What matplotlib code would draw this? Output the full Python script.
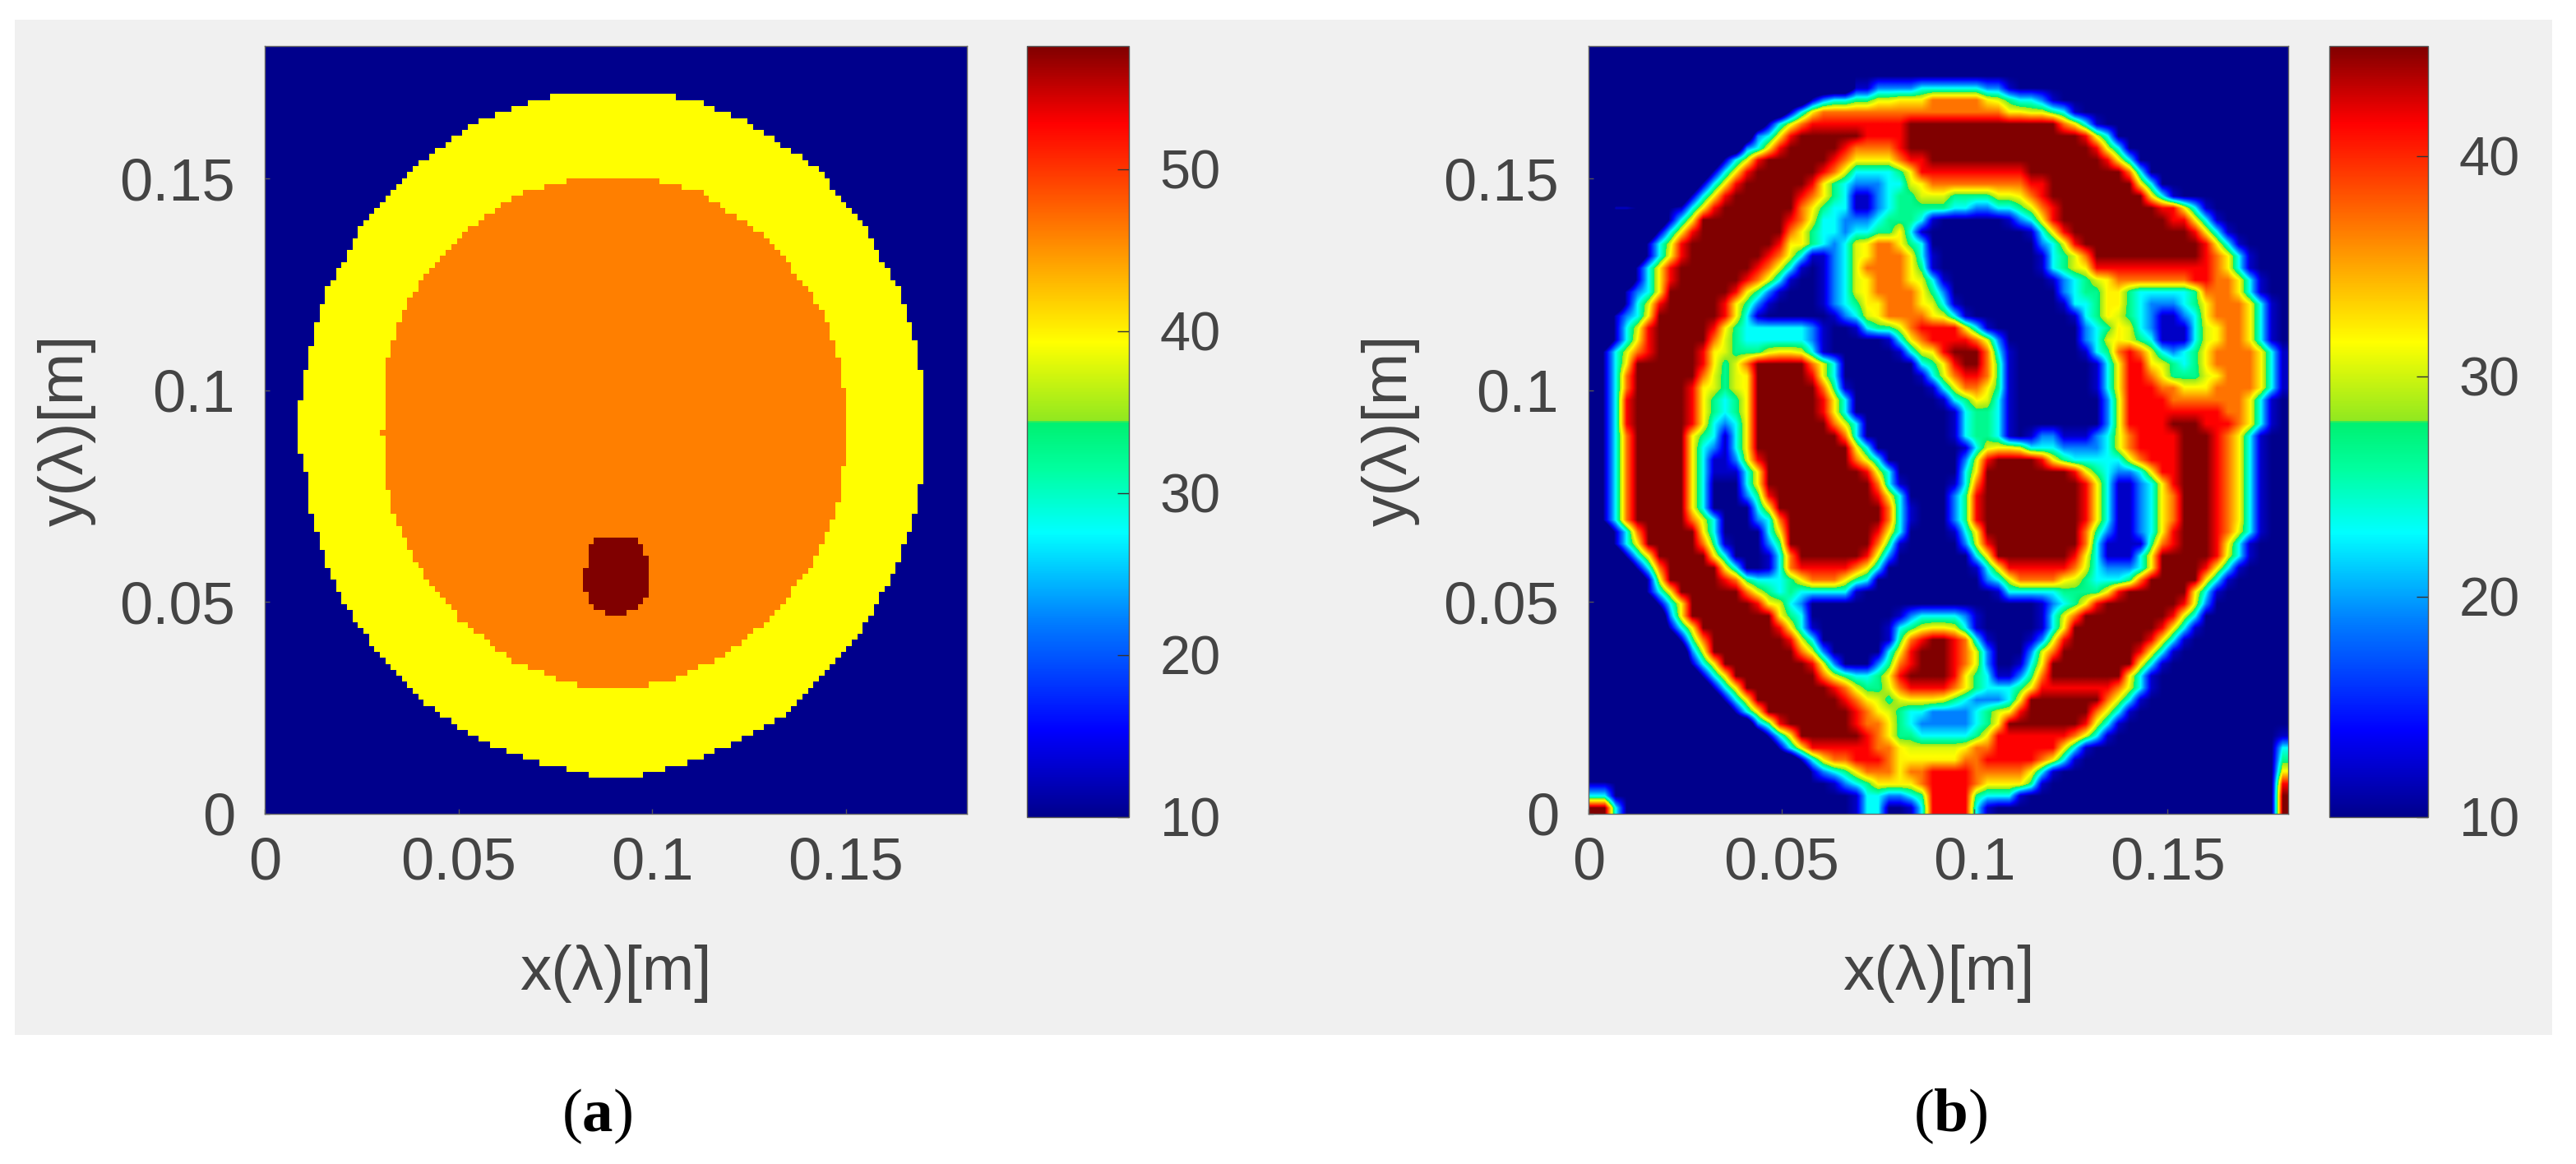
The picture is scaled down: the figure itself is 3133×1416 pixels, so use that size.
import numpy as np
import matplotlib
matplotlib.use("Agg")
import matplotlib.pyplot as plt
from matplotlib.colors import LinearSegmentedColormap
from matplotlib.patches import Rectangle
from matplotlib.path import Path

plt.rcParams['font.family'] = ['Liberation Sans', 'DejaVu Sans']
plt.rcParams['mathtext.fontset'] = 'custom'
plt.rcParams['mathtext.rm'] = 'Liberation Serif'
plt.rcParams['mathtext.bf'] = 'Liberation Serif:bold'

# limits and ticks
axis_max = 0.1813
axis_ticks = [0, 0.05, 0.1, 0.15]
axis_labels = ['0', '0.05', '0.1', '0.15']
left_cbar_ticks = [10, 20, 30, 40, 50]
right_cbar_ticks = [10, 20, 30, 40]
left_range = (10, 57.6)
right_range = (10, 45)

# (a) outlines in metres
outer_y = [.1705, .1695, .1682, .1669, .1650, .1634, .1618, .1585, .1553, .1521, .1488, .1456, .1423,
           .1391, .1359, .1326, .1294, .1262, .1229, .1197, .1165, .1132, .1100, .1035, .0971,
           .0848, .0815, .0751, .0686, .0654, .0589, .0556, .0524, .0492, .0459, .0427, .0395,
           .0362, .0330, .0298, .0265, .0233, .0201, .0168, .0136, .0123, .0110, .0092]
outer_left = [.0834, .0753, .0683, .0650, .0591, .0553, .0520, .0471, .0423, .0374, .0347, .0309, .0282,
              .0249, .0233, .0217, .0195, .0174, .0157, .0147, .0136, .0125, .0119, .0103, .0092,
              .0090, .0105, .0114, .0125, .0141, .0157, .0174, .0190, .0212, .0233, .0260, .0282,
              .0314, .0342, .0374, .0407, .0455, .0504, .0569, .0656, .0688, .0764, .0834]
outer_right = [.0970, .1056, .1116, .1154, .1208, .1246, .1273, .1327, .1381, .1430, .1457, .1484, .1517,
               .1549, .1566, .1582, .1598, .1625, .1641, .1652, .1663, .1674, .1685, .1696, .1706,
               .1706, .1696, .1690, .1674, .1658, .1631, .1614, .1598, .1576, .1560, .1533, .1511,
               .1479, .1446, .1414, .1371, .1338, .1284, .1219, .1132, .1105, .1046, .0970]
inner_y = [.1501, .1488, .1469, .1443, .1423, .1391, .1359, .1326, .1294, .1262, .1229, .1197, .1165,
           .1132, .1100, .1035, .0971, .0893, .0783, .0718, .0654, .0589, .0524, .0459, .0395,
           .0362, .0330, .0314, .0304]
inner_left = [.0802, .0753, .0677, .0623, .0591, .0542, .0504, .0466, .0434, .0407, .0385, .0363, .0347,
              .0336, .0325, .0311, .0306, .0304, .0314, .0331, .0358, .0396, .0444, .0504, .0591,
              .0639, .0731, .0764, .0813]
inner_right = [.0997, .1046, .1121, .1165, .1197, .1251, .1295, .1333, .1354, .1381, .1409, .1430, .1452,
               .1463, .1474, .1490, .1501, .1503, .1490, .1474, .1446, .1414, .1360, .1300, .1219,
               .1165, .1078, .1046, .0991]
spot_y = [.0653, .0641, .0602, .0524, .0498, .0479, .0472]
spot_left = [.0872, .0845, .0829, .0827, .0840, .0872, .0883]
spot_right = [.0943, .0970, .0989, .0991, .0975, .0943, .0926]
air_value = 10
skin_value = 39.3
tissue_value = 46
spot_value = 57.6

# (b) reconstruction, one row per line from the top, "start column:level" runs
level_values = [10, 12, 19, 23, 26.5, 30.5, 32, 37, 41.5, 45]
right_rows = [
    "0:0",
    "0:0",
    "0:0",
    "24:1 26:2 30:3 36:2 38:1 39:0",
    "20:1 21:2 22:3 24:4 26:5 28:6 31:7 36:6 37:5 38:4 39:3 41:2 42:1 43:0",
    "18:1 19:3 20:6 21:7 38:6 40:5 42:4 43:3 44:1 45:0",
    "16:1 17:3 18:5 19:7 20:8 29:9 43:7 44:6 45:3 46:1 47:0",
    "15:2 16:3 17:6 18:8 19:9 25:8 29:9 45:8 46:5 47:3 48:0",
    "14:2 15:3 16:6 17:8 18:9 23:8 24:7 28:8 29:9 46:8 47:5 48:3 49:0",
    "12:1 13:3 14:5 15:8 16:9 22:8 23:7 24:6 28:7 29:8 31:9 47:8 48:6 49:3 50:0",
    "11:1 12:3 13:6 14:8 15:9 21:8 22:7 23:5 24:3 28:4 29:6 30:8 40:9 49:7 50:3 51:0",
    "10:1 11:3 12:6 13:8 14:9 20:8 21:6 22:4 23:3 24:2 27:3 29:5 30:6 31:7 40:8 42:9 50:6 51:3 52:0",
    "9:1 10:3 11:6 12:8 13:9 19:8 20:7 21:6 22:4 23:3 24:1 26:2 27:3 28:4 30:5 33:4 37:5 39:6 40:7 41:8 42:9 51:6 52:3 53:1 54:0",
    "2:1 4:0 8:1 9:3 10:6 11:8 12:9 19:7 20:6 21:4 22:3 24:1 26:2 27:3 28:4 33:3 35:2 37:3 39:4 40:5 41:7 42:8 43:9 52:8 54:6 55:3 56:1 57:0",
    "7:1 8:3 9:6 10:9 18:8 19:7 20:5 21:3 23:2 26:3 27:4 30:3 31:1 32:0 38:1 39:2 40:3 41:6 42:8 43:9 53:8 55:6 56:3 57:1 58:0",
    "6:1 7:3 8:6 9:8 10:9 18:7 19:6 20:4 21:3 23:2 24:3 26:4 28:6 29:3 30:1 31:0 40:1 41:3 42:6 43:8 44:9 55:8 56:6 57:3 58:1 59:0",
    "5:1 6:3 7:5 8:8 9:9 17:8 18:6 20:4 21:3 22:2 23:3 24:5 25:6 26:7 28:6 29:4 30:3 31:0 41:2 42:3 43:5 44:8 45:9 56:8 57:6 58:3 59:1 60:0",
    "5:1 6:3 7:6 8:8 9:9 16:8 17:7 18:5 19:3 20:1 22:2 23:3 24:5 25:6 26:7 29:6 30:3 31:1 32:0 41:1 42:3 43:4 44:5 45:7 46:9 56:8 57:7 58:6 59:3 60:1 61:0",
    "4:1 5:3 6:6 7:8 8:9 15:8 16:7 17:5 18:3 19:1 20:0 21:1 22:2 23:3 24:5 25:7 29:6 30:4 31:1 32:0 41:1 42:3 43:4 44:5 45:6 46:8 57:7 58:6 59:3 60:1 61:0",
    "4:1 5:3 6:6 7:8 8:9 14:8 15:7 16:5 17:3 18:1 19:0 21:1 22:2 23:3 24:5 25:6 26:7 29:6 30:5 31:3 32:1 33:0 42:1 43:2 44:3 45:4 46:5 47:6 48:7 55:8 57:7 59:6 60:3 61:1 62:0",
    "3:1 4:2 5:3 6:6 7:9 13:8 14:6 15:4 16:2 17:1 18:0 21:1 22:2 23:3 24:5 25:6 26:7 30:6 31:4 32:2 33:0 43:2 44:3 45:4 47:6 49:4 50:3 55:4 56:7 59:6 60:3 61:1 62:0",
    "3:1 4:3 5:5 6:8 7:9 12:8 13:6 14:4 15:2 16:1 17:0 21:1 22:2 23:3 24:4 25:6 27:7 30:6 31:5 32:3 33:1 34:0 43:1 44:3 46:4 47:6 49:4 50:3 51:2 54:3 55:4 56:6 57:7 60:6 61:3 62:1 63:0",
    "2:1 3:2 4:3 5:6 6:9 12:8 13:6 14:3 15:1 16:0 22:1 23:2 24:3 25:5 26:6 27:7 31:6 32:5 33:3 34:1 35:0 44:1 45:3 46:4 47:6 48:5 49:4 50:3 51:2 52:1 54:2 55:3 56:6 57:7 60:6 61:3 62:1 63:0",
    "2:1 3:3 4:5 5:8 6:9 11:8 12:6 13:4 14:3 20:2 21:1 22:0 24:1 25:3 26:4 28:5 29:7 30:8 34:6 35:3 36:1 37:0 45:2 46:3 47:4 48:6 49:5 50:3 51:2 52:1 55:3 56:5 57:6 58:7 60:6 61:3 62:1 63:0",
    "2:1 3:3 4:6 5:8 6:9 11:7 12:5 13:4 14:3 20:2 21:1 22:0 27:1 28:3 29:6 30:7 31:8 35:7 36:5 37:2 38:0 45:2 46:3 47:5 48:6 49:5 50:4 51:3 52:1 55:3 56:5 57:6 58:7 60:6 61:3 62:1 63:0",
    "1:1 2:3 3:5 4:7 5:8 6:9 10:8 11:6 12:5 13:4 16:5 17:6 19:5 20:3 21:1 22:0 28:1 29:3 30:5 31:6 32:8 33:9 36:7 37:3 38:1 39:0 45:1 46:3 47:4 48:7 49:8 50:7 51:5 52:3 53:2 54:3 55:4 56:6 57:7 61:6 62:3 63:1",
    "1:1 2:3 3:6 4:9 10:8 11:6 12:4 13:5 14:7 15:9 20:7 21:5 22:3 23:0 30:3 31:4 32:6 33:8 34:9 36:7 37:4 38:1 39:0 46:1 47:3 48:6 49:8 51:6 52:5 53:4 54:3 55:4 56:6 57:7 61:6 62:3 63:1",
    "1:1 2:3 3:7 4:9 10:7 11:5 12:4 13:5 14:6 15:9 20:8 21:5 22:3 23:0 30:1 31:3 32:5 33:7 34:8 36:7 37:4 38:1 39:0 46:1 47:3 48:6 49:8 51:7 52:6 53:4 56:5 57:6 58:7 61:6 62:3 63:1",
    "1:1 2:3 3:7 4:9 9:8 10:6 11:5 12:4 13:5 14:6 15:9 21:7 22:4 23:1 24:0 31:1 32:3 33:5 34:7 36:6 37:4 38:1 39:0 46:1 47:3 48:6 49:8 52:7 54:6 57:7 61:6 62:3 63:1",
    "1:1 2:3 3:8 4:9 9:8 10:6 11:4 12:3 13:4 14:6 15:9 21:8 22:6 23:3 24:0 32:1 33:3 34:4 35:6 36:5 37:3 38:1 39:0 47:2 48:5 49:8 53:7 60:6 61:3 62:1 63:0",
    "1:1 2:3 3:8 4:9 9:8 10:6 11:4 12:3 13:4 14:6 15:9 21:8 22:6 23:3 24:0 33:1 34:3 35:4 37:3 38:1 39:0 47:2 48:5 49:8 58:7 60:6 61:3 62:1 63:0",
    "1:1 2:3 3:8 4:9 9:8 10:6 11:3 12:2 13:3 14:6 15:9 22:7 23:5 24:3 25:0 33:1 34:3 35:4 37:3 38:1 39:0 47:2 48:5 49:8 53:9 56:8 59:7 60:6 61:3 62:1 63:0",
    "1:1 2:3 3:7 4:9 9:6 10:4 11:3 12:1 13:3 14:6 15:9 23:7 24:3 25:0 33:1 34:3 35:4 37:3 38:1 39:0 40:1 41:2 43:1 46:2 47:3 48:5 49:7 50:8 54:9 57:8 58:7 59:6 60:3 61:1 62:0",
    "1:1 2:3 3:7 4:9 9:6 10:3 11:2 12:1 13:3 14:6 15:9 24:6 25:3 26:0 34:1 35:3 36:5 37:6 39:5 40:3 43:2 47:3 48:5 49:7 50:8 54:9 57:8 58:7 59:6 60:3 61:1 62:0",
    "1:1 2:3 3:7 4:9 9:6 10:3 11:1 13:2 14:5 15:8 16:9 24:7 25:5 26:3 27:0 34:2 35:5 36:8 37:9 41:8 42:6 43:4 44:3 49:5 50:7 51:8 54:9 57:8 58:7 59:6 60:3 61:1 62:0",
    "1:1 2:3 3:7 4:9 9:6 10:3 11:1 14:3 15:6 16:9 25:8 26:5 27:3 28:0 34:3 35:6 36:9 44:8 45:6 46:4 47:3 48:2 50:3 51:6 52:8 54:9 57:8 58:7 59:6 60:3 61:1 62:0",
    "1:1 2:3 3:7 4:9 9:6 10:3 11:0 14:3 15:6 16:9 26:7 27:3 28:1 29:0 33:1 34:3 35:7 36:9 45:8 46:6 47:3 48:1 50:2 51:3 52:6 53:8 54:9 57:8 58:7 59:6 60:3 61:1 62:0",
    "1:1 2:3 3:7 4:9 9:6 10:3 11:0 14:2 15:4 16:8 17:9 26:8 27:6 28:3 29:0 33:2 34:4 35:8 36:9 45:8 46:6 47:3 48:1 50:2 51:3 52:6 53:7 54:9 57:8 58:7 59:6 60:3 61:1 62:0",
    "1:1 2:3 3:7 4:9 9:6 10:3 11:0 15:3 16:6 17:9 27:7 28:3 29:1 30:0 33:2 34:4 35:8 36:9 45:8 46:6 47:3 48:1 50:2 51:3 52:6 53:7 54:9 57:8 58:7 59:6 60:3 61:1 62:0",
    "1:1 2:3 3:7 4:9 9:7 10:5 11:3 12:0 15:2 16:3 17:7 18:9 27:7 28:3 29:1 30:0 33:2 34:4 35:8 36:9 45:8 46:6 47:3 48:1 50:2 51:3 52:6 53:7 54:9 57:8 58:7 59:6 60:3 61:1 62:0",
    "2:1 3:3 4:7 5:9 10:6 11:3 12:0 16:3 17:6 18:9 26:8 27:6 28:3 29:0 33:1 34:3 35:6 36:9 45:7 46:4 47:2 48:1 50:2 51:3 52:6 53:8 54:9 57:8 58:7 59:5 60:3 61:1 62:0",
    "2:1 3:3 4:6 5:9 10:7 11:4 12:1 13:0 16:2 17:4 18:9 26:7 27:4 28:1 29:0 34:2 35:5 36:8 37:9 45:7 46:3 47:1 51:4 52:7 53:8 54:9 57:8 58:6 59:3 60:1 61:0",
    "3:1 4:3 5:6 6:9 11:6 12:3 13:0 16:1 17:3 18:7 19:9 25:8 26:5 27:2 28:0 35:3 36:6 37:9 44:8 45:6 46:3 47:1 50:3 51:6 52:9 57:8 58:5 59:3 60:1 61:0",
    "4:1 5:3 6:7 7:9 12:6 13:3 14:0 16:1 17:3 18:7 19:8 24:7 25:6 26:3 27:0 35:1 36:3 37:6 38:8 44:7 45:5 46:3 47:2 50:3 51:6 52:9 56:8 57:6 58:3 59:1 60:0",
    "5:1 6:5 7:9 12:8 13:7 14:4 15:3 18:4 19:6 20:7 23:6 24:4 25:3 26:0 36:2 37:3 38:5 39:7 43:6 44:5 45:4 46:3 49:4 50:7 51:9 56:6 57:3 58:1 59:0",
    "5:1 6:3 7:6 8:9 14:7 15:5 16:4 17:3 18:4 19:3 24:1 25:0 37:1 38:3 43:4 47:6 48:8 49:9 55:6 56:3 57:1 58:0",
    "6:1 7:3 8:6 9:9 15:8 16:6 17:5 18:3 19:2 20:0 41:1 42:2 43:3 44:4 45:6 46:8 47:9 54:8 55:5 56:2 57:0",
    "7:2 8:6 9:9 17:6 18:4 19:3 20:0 28:1 29:2 30:3 34:2 35:1 36:0 41:1 42:3 43:5 44:7 45:9 53:8 54:5 55:3 56:0",
    "7:1 8:3 9:6 10:9 17:8 18:6 19:3 20:1 21:0 27:1 28:3 29:4 30:5 31:6 33:5 34:3 35:1 36:0 41:1 42:3 43:6 44:9 52:8 53:6 54:3 55:1 56:0",
    "8:1 9:4 10:7 11:9 18:8 19:5 20:3 21:0 27:1 28:4 29:7 30:8 31:9 33:8 34:7 35:3 36:1 37:0 40:1 41:2 42:5 43:8 44:9 51:8 52:6 53:3 54:1 55:0",
    "9:2 10:5 11:9 19:7 20:5 21:2 22:0 27:3 28:6 29:8 30:9 33:8 34:7 35:5 36:2 37:0 40:2 41:5 42:7 43:9 50:8 51:6 52:3 53:1 54:0",
    "9:1 10:3 11:6 12:9 20:8 21:5 22:2 23:0 26:2 27:4 28:7 29:8 30:9 33:8 34:7 35:5 36:2 37:0 39:1 40:3 41:6 42:9 50:6 51:3 52:1 53:0",
    "10:1 11:3 12:6 13:9 21:7 22:5 23:4 24:3 26:4 27:6 28:8 29:9 33:8 34:6 35:4 36:3 37:1 39:2 40:4 41:7 42:9 49:6 50:3 51:1 52:0",
    "11:1 12:3 13:6 14:9 22:8 23:7 24:5 25:4 27:5 28:7 29:8 33:7 34:6 35:4 36:3 39:4 40:6 41:8 48:7 49:5 50:3 51:1 52:0",
    "12:1 13:3 14:6 15:9 23:8 24:7 25:6 26:5 27:4 28:5 29:6 32:5 33:4 34:3 35:2 38:3 39:6 40:9 47:7 48:5 49:3 50:1 51:0",
    "13:1 14:3 15:6 16:9 24:8 25:7 26:6 27:5 28:4 29:3 31:2 35:3 36:4 37:5 38:6 39:8 40:9 46:7 47:5 48:3 49:1 50:0",
    "15:2 16:4 17:8 18:9 24:8 25:7 27:6 28:4 29:3 30:2 35:3 36:4 37:6 38:9 45:8 46:5 47:3 48:1 49:0",
    "16:1 17:3 18:6 19:9 25:8 26:7 27:6 28:4 30:3 35:4 36:6 37:8 44:7 45:5 46:3 47:1 48:0 63:1",
    "17:1 18:3 19:6 20:8 26:7 28:6 29:5 34:6 35:7 37:8 43:6 44:3 45:1 46:0 63:3",
    "19:1 20:3 21:6 22:7 24:8 27:7 28:6 34:7 36:8 41:7 42:6 43:3 44:1 45:0 63:4",
    "20:1 21:2 22:3 23:4 24:6 25:7 28:6 29:7 31:8 35:7 40:6 41:3 42:1 43:0 63:6",
    "0:1 2:0 22:1 23:2 24:3 25:4 26:6 30:7 31:8 35:7 36:6 40:4 41:1 42:0 63:8",
    "0:3 2:0 24:1 25:3 27:2 29:3 30:4 31:8 35:4 36:3 39:1 40:0 63:9",
    "0:9 2:3 3:0 24:1 25:3 27:0 29:1 30:3 31:8 35:3 36:1 37:0 63:9",
]
n_cols = 64

# jet-like scale as it looks in the colorbars, with the jump at the green
cmap_stops = [(0, '#00008c'), (.112, '#0000ff'), (.256, '#0080ff'), (.369, '#00ffff'),
              (.45, '#00ffa0'), (.512, '#00f070'), (.514, '#90e820'), (.616, '#ffff00'),
              (.757, '#ff8000'), (.90, '#ff0000'), (1, '#800000')]
jet_like = LinearSegmentedColormap.from_list('jet_like', cmap_stops, N=512)

text_col = '#444444'
W, H = 3133, 1416


def rect(x0, y0, x1, y1):
    return [x0 / W, 1 - y1 / H, (x1 - x0) / W, (y1 - y0) / H]


def left_grid():
    n = 128
    c = (np.arange(n) + 0.5) * axis_max / n
    xx, yy = np.meshgrid(c, c)
    pts = np.column_stack([xx.ravel(), yy.ravel()])
    grid = np.full(n * n, float(air_value))
    for ys, l, r, v in [(outer_y, outer_left, outer_right, skin_value),
                        (inner_y, inner_left, inner_right, tissue_value),
                        (spot_y, spot_left, spot_right, spot_value)]:
        poly = list(zip(l, ys)) + list(zip(r[::-1], ys[::-1]))
        grid[Path(poly).contains_points(pts)] = v
    return grid.reshape(n, n)


def right_grid():
    grid = np.zeros((len(right_rows), n_cols))
    for i, row in enumerate(right_rows):
        for tok in row.split():
            start, level = tok.split(':')
            grid[i, int(start):] = level_values[int(level)]
    return grid[::-1]


def draw_panel(ax_box, cax_box, grid, vrange, cticks, interp):
    ax = fig.add_axes(rect(*ax_box))
    im = ax.imshow(grid, origin='lower', extent=[0, axis_max, 0, axis_max], cmap=jet_like,
                   vmin=vrange[0], vmax=vrange[1], aspect='auto', interpolation=interp,
                   interpolation_stage='data')
    ax.set_xticks(axis_ticks, axis_labels)
    ax.set_yticks(axis_ticks, axis_labels)
    ax.tick_params(direction='in', length=4, width=1, color='#555555', labelcolor=text_col,
                   labelsize=52)
    ax.tick_params(axis='x', pad=20)
    ax.tick_params(axis='y', pad=26)
    ax.set_xlabel('x(λ)[m]', fontsize=55, color=text_col, labelpad=46)
    ax.set_ylabel('y(λ)[m]', fontsize=55, color=text_col, labelpad=20)
    for s in ax.spines.values():
        s.set_color('#666666')
        s.set_linewidth(1)

    cax = fig.add_axes(rect(*cax_box))
    cb = fig.colorbar(im, cax=cax)
    cb.set_ticks(cticks)
    cax.tick_params(direction='in', length=10, width=1, color='#333333', labelcolor=text_col,
                    labelsize=48, pad=27)
    cb.outline.set_edgecolor('#555555')
    cb.outline.set_linewidth(1)
    return ax


fig = plt.figure(figsize=(W / 100, H / 100), dpi=100, facecolor='white')
fig.add_artist(Rectangle((18 / W, 1 - 1259 / H), (3104 - 18) / W, (1259 - 24) / H,
                         transform=fig.transFigure, facecolor='#f0f0f0', edgecolor='none', zorder=-1))

draw_panel((322, 56, 1176, 990), (1249, 56, 1373, 994), left_grid(), left_range,
           left_cbar_ticks, 'nearest')
draw_panel((1932, 56, 2783, 990), (2833, 56, 2953, 994), right_grid(), right_range,
           right_cbar_ticks, 'bilinear')

fig.text(726 / W, 1 - 1358 / H, r'$\mathrm{(}\mathbf{a}\mathrm{)}$', fontsize=54, color='black',
         ha='center', va='center')
fig.text(2372 / W, 1 - 1358 / H, r'$\mathrm{(}\mathbf{b}\mathrm{)}$', fontsize=54, color='black',
         ha='center', va='center')

fig.savefig('out.png', dpi=100)
